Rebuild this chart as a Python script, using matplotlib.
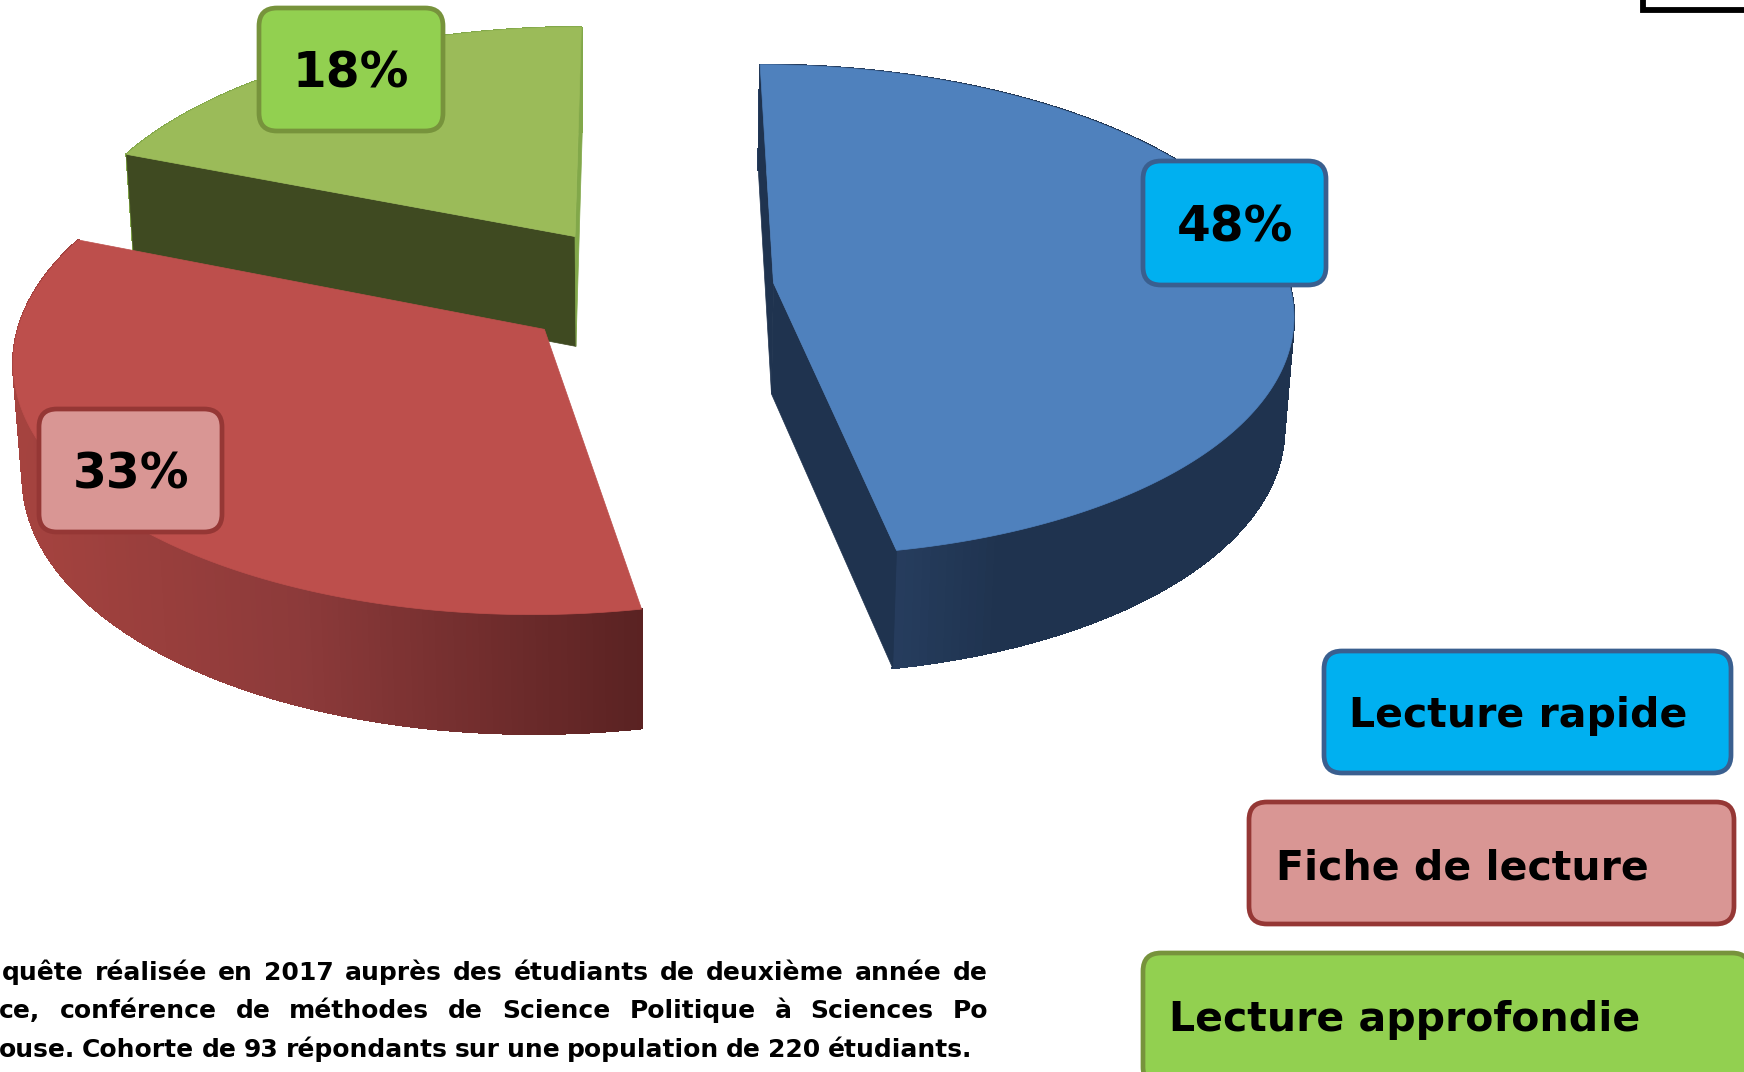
import numpy as np
import matplotlib.pyplot as plt
from matplotlib.patches import FancyBboxPatch, Rectangle
from matplotlib.colors import to_rgb

plt.rcParams['font.family'] = ['DejaVu Sans']

# slices as drawn (the tilted picture stretches them a bit vs. the labels)
slice_names = ['Lecture rapide', 'Fiche de lecture', 'Lecture approfondie']
slice_shares = [47.05, 33.95, 19.0]
pct_labels = ['48%', '33%', '18%']
# the note is cut by the left edge of the picture, only what shows is kept
note_lines = [
    'quête réalisée en 2017 auprès des étudiants de deuxième année de',
    'ce, conférence de méthodes de Science Politique à Sciences Po',
    'ouse. Cohorte de 93 répondants sur une population de 220 étudiants.',
]

top_colors = ['#4F81BD', '#BD4F4C', '#9BBB59']
box_fill = ['#00B0F0', '#D99694', '#92D050']
box_edge = ['#3A5F8F', '#953735', '#77933C']
# None: that cut edge faces away and stays hidden
wall_colors = [('#1F334F', '#1F334F'), (None, None), ('#3F4A21', '#82A84A')]
rim_stops = [
    ([895, 1000, 1300], ['#263D5E', '#1F334F', '#1F334F']),
    ([15, 300, 642], ['#A5433F', '#8C3A3A', '#5A2222']),
    ([100, 600], ['#82A84A', '#82A84A']),
]

# camera for the tilted pie, in pixels of the picture
cx, horizon, depth_h, scale, dist = 640, -1897, 2178, 515, 9.0
drop_h = 111
explode = [0.241, 0.26, 0.263]
center_x, center_y = 0.019, -0.03

pct_boxes = [(1143, 161, 1326, 285), (39, 409, 222, 532), (259, 8, 443, 131)]
legend_boxes = [(1324, 651, 1731, 773), (1249, 802, 1734, 924), (1143, 953, 1750, 1085)]
legend_text_x = [1349, 1276, 1169]
legend_text_y = [716, 868, 1020]


def project(x, y, drop=0.0):
    d = 1 + np.asarray(y) / dist
    sx = cx + np.asarray(x) * scale / d * (1 - 0.015 * drop)
    sy = horizon + depth_h / d + drop_h * drop / np.sqrt(d)
    return sx, sy


def round_box(ax, box, face, edge):
    x0, y0, x1, y1 = box
    ax.add_patch(FancyBboxPatch((x0 + 18, y0 + 18), x1 - x0 - 36, y1 - y0 - 36,
                                boxstyle='round,pad=18,rounding_size=18',
                                fc=face, ec=edge, lw=3.4, zorder=10))


fig = plt.figure(figsize=(17.44, 10.72), dpi=100)
ax = fig.add_axes([0, 0, 1, 1])
ax.set_xlim(0, 1744)
ax.set_ylim(1072, 0)
ax.axis('off')

edges = np.concatenate([[0], np.cumsum(slice_shares)]) / sum(slice_shares) * 360

# back slices first: green, red, blue
for i in [2, 1, 0]:
    a0, a1 = np.radians(edges[i]), np.radians(edges[i + 1])
    mid = (a0 + a1) / 2
    ox = center_x + explode[i] * np.sin(mid)
    oy = center_y + explode[i] * np.cos(mid)
    t = np.linspace(a0, a1, 200)
    rx, ry = ox + np.sin(t), oy + np.cos(t)

    # outer wall, shaded along x
    xa, ya = project(rx, ry)
    xb, yb = project(rx, ry, 1)
    stops, cols = rim_stops[i]
    rgb = np.array([to_rgb(c) for c in cols])
    for j in range(len(t) - 1):
        xm = (xa[j] + xa[j + 1]) / 2
        col = [np.interp(xm, stops, rgb[:, k]) for k in range(3)]
        ax.fill([xa[j], xa[j + 1], xb[j + 1], xb[j]], [ya[j], ya[j + 1], yb[j + 1], yb[j]],
                color=col, lw=1.0, antialiased=False)

    # flat walls on the two cut edges
    for ang, col in zip((a0, a1), wall_colors[i]):
        if col is None:
            continue
        wx, wy = np.array([ox, ox + np.sin(ang)]), np.array([oy, oy + np.cos(ang)])
        xa, ya = project(wx, wy)
        xb, yb = project(wx, wy, 1)
        ax.fill(np.r_[xa, xb[::-1]], np.r_[ya, yb[::-1]], color=col, lw=0.5)

    # top face
    tx, ty = project(np.r_[ox, rx], np.r_[oy, ry])
    ax.fill(tx, ty, color=top_colors[i], lw=0.5)

for box, lab, fc, ec in zip(pct_boxes, pct_labels, box_fill, box_edge):
    round_box(ax, box, fc, ec)
    ax.text((box[0] + box[2]) / 2, (box[1] + box[3]) / 2 + 4, lab, fontsize=35, fontweight='bold',
            ha='center', va='center', color='black', zorder=11)

for box, name, fc, ec, tx, ty in zip(legend_boxes, slice_names, box_fill, box_edge,
                                     legend_text_x, legend_text_y):
    round_box(ax, box, fc, ec)
    ax.text(tx, ty, name, fontsize=29.5, fontweight='bold', ha='left', va='center',
            color='black', zorder=11)

# corner of a frame cut by the top of the picture
ax.add_patch(Rectangle((1643, -40), 140, 50, fc='none', ec='black', lw=4.2, zorder=5))

# justified note, placed word by word from the right
renderer = fig.canvas.get_renderer()
note_right = [988, 988, 972]
note_y = [980, 1018, 1057]
note_gap = [11.2, 19, 7.2]
for line, xr, y, gap in zip(note_lines, note_right, note_y, note_gap):
    x = xr
    for word in reversed(line.split(' ')):
        txt = ax.text(x, y, word, fontsize=18, fontweight='bold', ha='right', va='baseline',
                      color='black')
        x -= txt.get_window_extent(renderer).width + gap

fig.savefig('out.png', dpi=100)
